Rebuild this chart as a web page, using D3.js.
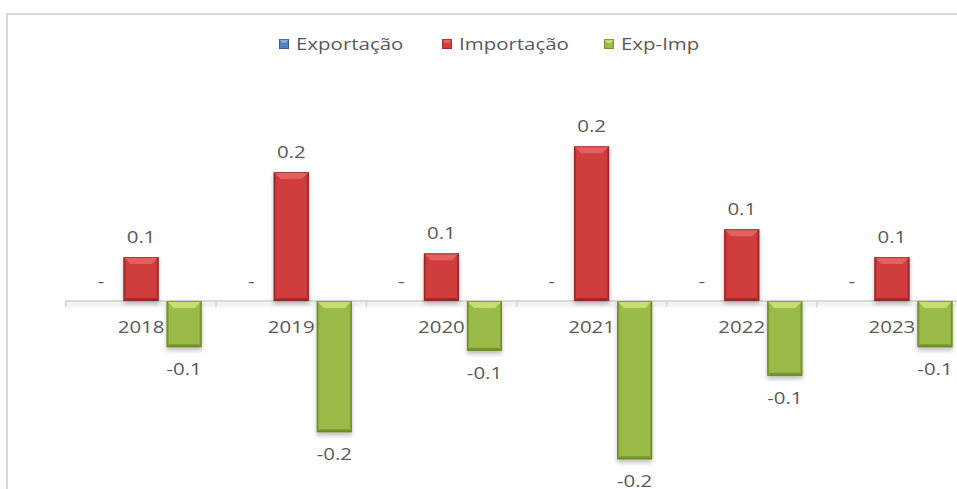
<!DOCTYPE html>
<html>
<head>
<meta charset="utf-8">
<script src="https://cdn.jsdelivr.net/npm/d3@7"></script>
<style>
  body { margin: 0; background: #fff; }
  text { font-family: "Open Sans", sans-serif; font-size: 15.5px; fill: #595959; }
</style>
</head>
<body>
<svg id="chart" width="957" height="489"></svg>
<script>
var years = ["2018", "2019", "2020", "2021", "2022", "2023"];
var seriesNames = ["Exportação", "Importação", "Exp-Imp"];
var exportacao = [0, 0, 0, 0, 0, 0];
var importacao = [0.060, 0.176, 0.065, 0.211, 0.098, 0.060];
var expImp = [-0.063, -0.179, -0.068, -0.216, -0.102, -0.063];

var colors = {
  "Exportação": {body: "#4f81bd", light: "#82a9d9", dark: "#2f5a8e", edge: "#274b78"},
  "Importação": {body: "#cf3d3d", light: "#e4605f", dark: "#a52828", edge: "#8a1f1f"},
  "Exp-Imp":    {body: "#9bbb48", light: "#c6df72", dark: "#76952e", edge: "#5f7a22"}
};

var textStretch = 1.32;
var svg = d3.select("#chart");

var defs = svg.append("defs");
var shadow = defs.append("filter").attr("id", "shadow")
    .attr("x", "-20%").attr("y", "-20%").attr("width", "140%").attr("height", "140%");
shadow.append("feDropShadow")
    .attr("dx", 0).attr("dy", 3).attr("stdDeviation", 2)
    .attr("flood-color", "#000").attr("flood-opacity", 0.25);
var axisShadow = defs.append("filter").attr("id", "axis-shadow")
    .attr("filterUnits", "userSpaceOnUse")
    .attr("x", 0).attr("y", 290).attr("width", 957).attr("height", 25);
axisShadow.append("feDropShadow")
    .attr("dx", 0).attr("dy", 3).attr("stdDeviation", 2)
    .attr("flood-color", "#000").attr("flood-opacity", 0.15);

// frame
svg.append("rect")
    .attr("x", 7).attr("y", 14)
    .attr("width", 970).attr("height", 500)
    .attr("fill", "none")
    .attr("stroke", "#d9d9d9")
    .attr("stroke-width", 2);

function stretchedText(sel, x, y, str, anchor) {
  return sel.append("text")
      .attr("transform", `translate(${x}, ${y}) scale(${textStretch}, 1)`)
      .style("text-anchor", anchor || "middle")
      .text(str);
}

// scales
var x0 = d3.scaleBand().domain(years).range([66, 967]);
var x1 = d3.scaleBand().domain(seriesNames)
    .range([0, x0.bandwidth()])
    .paddingInner(8 / 43)
    .paddingOuter(0.337);
var pxPerUnit = 733;
var axisY = 301;
var yScale = d3.scaleLinear()
    .domain([-0.3, 0.3])
    .range([axisY + 0.3 * pxPerUnit, axisY - 0.3 * pxPerUnit]);

function fmt(v) {
  if (v === 0) return "-";
  return d3.format(".1f")(v).replace("\u2212", "-");
}

var rows = years.map(function(y, i) {
  return {
    year: y,
    values: [
      {name: seriesNames[0], value: exportacao[i]},
      {name: seriesNames[1], value: importacao[i]},
      {name: seriesNames[2], value: expImp[i]}
    ]
  };
});

var chart = svg.append("g");

// x axis line with faint shadow, and ticks at category boundaries
chart.append("rect")
    .attr("x", x0.range()[0]).attr("width", x0.range()[1] - x0.range()[0])
    .attr("y", axisY - 1).attr("height", 2)
    .attr("fill", "#d9d9d9")
    .attr("filter", "url(#axis-shadow)");
var bounds = years.map(function(y) { return x0(y); }).concat([x0.range()[1]]);
chart.selectAll("line.tick")
    .data(bounds)
    .enter().append("line")
        .attr("class", "tick")
        .attr("x1", function(d) { return d; })
        .attr("x2", function(d) { return d; })
        .attr("y1", axisY).attr("y2", axisY + 6)
        .attr("stroke", "#d9d9d9").attr("stroke-width", 2);

// year labels drawn under the bars
years.forEach(function(y) {
  stretchedText(chart, x0(y) + x0.bandwidth() / 2, 333, y);
});

// bars
var bevel = 7;
var groups = chart.selectAll("g.year")
    .data(rows)
    .enter().append("g")
        .attr("class", "year")
        .attr("transform", function(d) { return `translate(${x0(d.year)}, 0)`; });

var bar = groups.selectAll("g.bar")
    .data(function(d) { return d.values; })
    .enter().append("g")
        .attr("class", "bar")
        .attr("filter", "url(#shadow)");

bar.each(function(d) {
  if (d.value === 0) return;
  var g = d3.select(this);
  var c = colors[d.name];
  var x = x1(d.name), w = x1.bandwidth();
  var top = Math.min(yScale(d.value), yScale(0));
  var bot = Math.max(yScale(d.value), yScale(0));
  var h = bot - top;
  var b = Math.min(bevel, h / 2);
  g.append("rect")
      .attr("x", x).attr("y", top)
      .attr("width", w).attr("height", h)
      .attr("fill", c.body);
  // top bevel
  g.append("polygon")
      .attr("points", [[x, top], [x + w, top], [x + w - b, top + b], [x + b, top + b]].join(" "))
      .attr("fill", c.light);
  // bottom bevel
  g.append("polygon")
      .attr("points", [[x, bot], [x + w, bot], [x + w - 3, bot - 3], [x + 3, bot - 3]].join(" "))
      .attr("fill", c.dark);
  // side bevels
  g.append("polygon")
      .attr("points", [[x, top], [x + 2, top + 2], [x + 2, bot - 2], [x, bot]].join(" "))
      .attr("fill", c.dark).attr("opacity", 0.7);
  g.append("polygon")
      .attr("points", [[x + w, top], [x + w - 2, top + 2], [x + w - 2, bot - 2], [x + w, bot]].join(" "))
      .attr("fill", c.dark).attr("opacity", 0.7);
  g.append("rect")
      .attr("x", x + 0.5).attr("y", top + 0.5)
      .attr("width", w - 1).attr("height", h - 1)
      .attr("fill", "none").attr("stroke", c.edge).attr("stroke-width", 1)
      .attr("opacity", 0.6);
});

// value labels
groups.each(function(row) {
  var g = d3.select(this);
  row.values.forEach(function(d) {
    var cx = x1(d.name) + x1.bandwidth() / 2;
    var yy = d.value < 0 ? yScale(d.value) + 28 : yScale(d.value) - 14;
    stretchedText(g, cx + (d.value === 0 ? 3 : 0), yy, fmt(d.value));
  });
});

// legend
var legendX = [279, 442, 604];
var legend = svg.append("g").attr("class", "legend");
seriesNames.forEach(function(name, i) {
  var c = colors[name];
  var lx = legendX[i];
  legend.append("rect")
      .attr("x", lx).attr("y", 39)
      .attr("width", 10).attr("height", 10)
      .attr("fill", c.body);
  legend.append("polygon")
      .attr("points", [[lx, 39], [lx + 10, 39], [lx + 7, 43], [lx + 3, 43]].join(" "))
      .attr("fill", c.light);
  legend.append("rect")
      .attr("x", lx + 0.5).attr("y", 39.5)
      .attr("width", 9).attr("height", 9)
      .attr("fill", "none").attr("stroke", c.edge).attr("opacity", 0.6);
  stretchedText(legend, lx + 17, 50, name, "start");
});
</script>
</body>
</html>
